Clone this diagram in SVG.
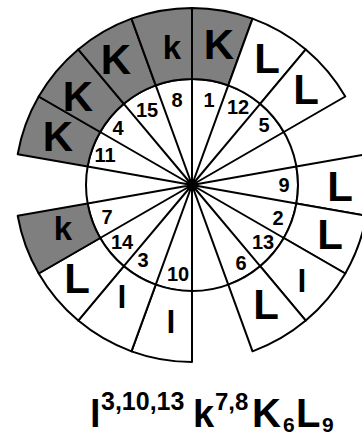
<svg xmlns="http://www.w3.org/2000/svg" width="362" height="435" viewBox="0 0 362 435">
<style>
.box{stroke:#000;stroke-width:2;stroke-linejoin:round}
.g{fill:#7f7f7f}
.w{fill:#fff}
.spk{stroke:#000;stroke-width:2}
text{font-family:"Liberation Sans",Arial,sans-serif;font-weight:bold;fill:#000}
.num{font-size:20px;text-anchor:middle}
.big{font-size:42px;text-anchor:middle}
.kk{font-size:33px;text-anchor:middle}
.ll{font-size:32px;text-anchor:middle}
</style>
<rect width="362" height="435" fill="#fff"/>
<circle id="hub" cx="192" cy="185" r="106" fill="#fff" stroke="#000" stroke-width="2"/>
<g id="r1"><path class="box g" d="M192,79 L192,8 A177,177 0 0 1 252.54,18.67 L228.25,85.39 A106,106 0 0 0 192,79 Z"/><text class="big" x="219" y="59">K</text><text class="num" x="209" y="107">1</text></g>
<g id="r12"><path class="box w" d="M228.25,85.39 L252.54,18.67 A177,177 0 0 1 305.77,49.41 L260.14,103.8 A106,106 0 0 0 228.25,85.39 Z"/><text class="big" x="267" y="73">L</text><text class="num" x="238" y="114">12</text></g>
<g id="r5"><path class="box w" d="M260.14,103.8 L305.77,49.41 A177,177 0 0 1 345.29,96.5 L283.8,132 A106,106 0 0 0 260.14,103.8 Z"/><text class="big" x="306" y="104">L</text><text class="num" x="264" y="132">5</text></g>
<g id="r9"><path class="box w" d="M296.39,166.59 L366.31,154.26 A177,177 0 0 1 366.31,215.74 L296.39,203.41 A106,106 0 0 0 296.39,166.59 Z"/><text class="big" x="340" y="201">L</text><text class="num" x="284" y="192">9</text></g>
<g id="r2"><path class="box w" d="M296.39,203.41 L366.31,215.74 A177,177 0 0 1 345.29,273.5 L283.8,238 A106,106 0 0 0 296.39,203.41 Z"/><text class="big" x="330" y="249">L</text><text class="num" x="278" y="225">2</text></g>
<g id="r13"><path class="box w" d="M283.8,238 L345.29,273.5 A177,177 0 0 1 305.77,320.59 L260.14,266.2 A106,106 0 0 0 283.8,238 Z"/><text class="ll" x="302" y="292">l</text><text class="num" x="263" y="249">13</text></g>
<g id="r6"><path class="box w" d="M260.14,266.2 L305.77,320.59 A177,177 0 0 1 252.54,351.33 L228.25,284.61 A106,106 0 0 0 260.14,266.2 Z"/><text class="big" x="266" y="319">L</text><text class="num" x="241" y="270">6</text></g>
<g id="r10"><path class="box w" d="M192,291 L192,362 A177,177 0 0 1 131.46,351.33 L155.75,284.61 A106,106 0 0 0 192,291 Z"/><text class="ll" x="171" y="333">l</text><text class="num" x="178" y="281">10</text></g>
<g id="r3"><path class="box w" d="M155.75,284.61 L131.46,351.33 A177,177 0 0 1 78.23,320.59 L123.86,266.2 A106,106 0 0 0 155.75,284.61 Z"/><text class="ll" x="122" y="308">l</text><text class="num" x="143" y="267">3</text></g>
<g id="r14"><path class="box w" d="M123.86,266.2 L78.23,320.59 A177,177 0 0 1 38.71,273.5 L100.2,238 A106,106 0 0 0 123.86,266.2 Z"/><text class="big" x="77" y="293">L</text><text class="num" x="122" y="249">14</text></g>
<g id="r7"><path class="box g" d="M100.2,238 L38.71,273.5 A177,177 0 0 1 17.69,215.74 L87.61,203.41 A106,106 0 0 0 100.2,238 Z"/><text class="kk" x="63" y="240">k</text><text class="num" x="107" y="224">7</text></g>
<g id="r11"><path class="box g" d="M87.61,166.59 L17.69,154.26 A177,177 0 0 1 38.71,96.5 L100.2,132 A106,106 0 0 0 87.61,166.59 Z"/><text class="big" x="58" y="151">K</text><text class="num" x="105" y="162">11</text></g>
<g id="r4"><path class="box g" d="M100.2,132 L38.71,96.5 A177,177 0 0 1 78.23,49.41 L123.86,103.8 A106,106 0 0 0 100.2,132 Z"/><text class="big" x="78" y="111">K</text><text class="num" x="118" y="135">4</text></g>
<g id="r15"><path class="box g" d="M123.86,103.8 L78.23,49.41 A177,177 0 0 1 131.46,18.67 L155.75,85.39 A106,106 0 0 0 123.86,103.8 Z"/><text class="big" x="116" y="74">K</text><text class="num" x="147" y="117">15</text></g>
<g id="r8"><path class="box g" d="M155.75,85.39 L131.46,18.67 A177,177 0 0 1 192,8 L192,79 A106,106 0 0 0 155.75,85.39 Z"/><text class="kk" x="172" y="59">k</text><text class="num" x="177" y="107">8</text></g>
<g id="connectors">
<path class="spk" d="M192,185 L192,79 M192,185 L228.25,85.39 M192,185 L260.14,103.8 M192,185 L283.8,132 M192,185 L296.39,166.59 M192,185 L296.39,203.41 M192,185 L283.8,238 M192,185 L260.14,266.2 M192,185 L228.25,284.61 M192,185 L192,291 M192,185 L155.75,284.61 M192,185 L123.86,266.2 M192,185 L100.2,238 M192,185 L87.61,203.41 M192,185 L87.61,166.59 M192,185 L100.2,132 M192,185 L123.86,103.8 M192,185 L155.75,85.39"/>
</g>
<g id="formula">
<text><tspan x="90" y="427" font-size="38">l</tspan><tspan x="101" y="410" font-size="25">3,10,13</tspan><tspan x="193" y="427" font-size="38">k</tspan><tspan x="215" y="410" font-size="24">7,8</tspan><tspan x="252" y="427" font-size="40">K</tspan><tspan x="283" y="432" font-size="21">6</tspan><tspan x="296" y="427" font-size="40">L</tspan><tspan x="322" y="432" font-size="21">9</tspan></text>
</g>
</svg>
